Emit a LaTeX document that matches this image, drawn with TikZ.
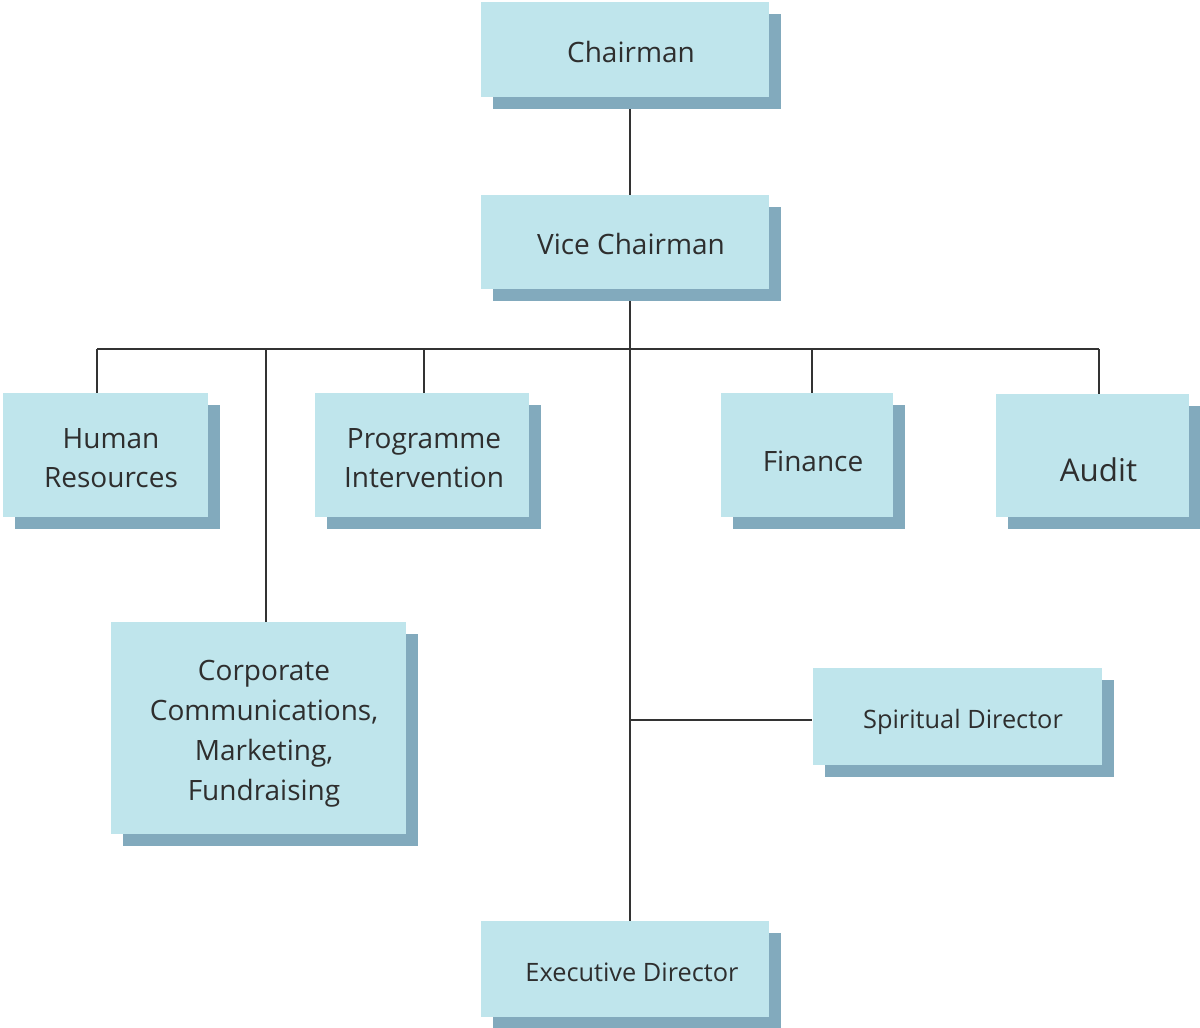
\documentclass[tikz,border=0pt]{standalone}
\usepackage{fontspec}
\setmainfont{Open Sans}
\usetikzlibrary{shadows,backgrounds}
\definecolor{boxfill}{HTML}{BFE5EC}
\definecolor{boxshade}{HTML}{82AABD}
\definecolor{wirec}{HTML}{333333}
\definecolor{ink}{HTML}{2E2E2E}
\tikzset{
  unitbox/.style={fill=boxfill, draw=none, inner sep=0pt,
    general shadow={fill=boxshade, shadow xshift=9pt, shadow yshift=-9pt}},
  caption/.style={inner sep=0pt, text=ink, align=center,
    font=\fontsize{21}{29.25}\selectfont},
  widecap/.style={caption, font=\fontsize{21}{30}\selectfont},
  smallcap/.style={caption, font=\fontsize{19}{26}\selectfont},
  bigcap/.style={caption, font=\fontsize{23.5}{30}\selectfont},
  wire/.style={draw=wirec, line width=1.5pt}
}
\begin{document}
\begin{tikzpicture}[x=0.75pt,y=-0.75pt]
\useasboundingbox (0,0) rectangle (1200,1028);

% boxes
\node[unitbox, minimum width=216pt, minimum height=71.25pt] (chair) at (625,49.5) {};
\node[unitbox, minimum width=216pt, minimum height=70.5pt] (vice) at (625,242) {};
\node[unitbox, minimum width=153.75pt, minimum height=93pt] (hr) at (105.5,455) {};
\node[unitbox, minimum width=160.5pt, minimum height=93pt] (prog) at (422,455) {};
\node[unitbox, minimum width=129pt, minimum height=93pt] (fin) at (807,455) {};
\node[unitbox, minimum width=144.75pt, minimum height=92.25pt] (audit) at (1092.5,455.5) {};
\node[unitbox, minimum width=221.25pt, minimum height=159pt] (corp) at (258.5,728) {};
\node[unitbox, minimum width=216.75pt, minimum height=72.75pt] (spir) at (957,716.5) {};
\node[unitbox, minimum width=216pt, minimum height=72pt] (exec) at (625,969) {};

% captions
\node[caption, anchor=base] (chairT) at (631,62) {Chairman};
\node[caption, anchor=base] (viceT) at (631,254) {Vice Chairman};
\node[caption, anchor=north] (hrT) at (111,428) {Human\\Resources};
\node[caption, anchor=north] (progT) at (424,428) {Programme\\Intervention};
\node[caption, anchor=base] (finT) at (813,471) {Finance};
\node[bigcap, anchor=base] (auditT) at (1098.5,481) {Audit};
\node[widecap, anchor=north] (corpT) at (264,660) {Corporate\\Communications,\\Marketing,\\Fundraising};
\node[smallcap, anchor=base] (spirT) at (963,728) {Spiritual Director};
\node[smallcap, anchor=base] (execT) at (632,981) {Executive Director};

% connectors
\begin{scope}[on background layer]
  \coordinate (trunk) at (630,349);
  \coordinate (bhr) at (97,349);
  \coordinate (bcorp) at (266,349);
  \coordinate (bprog) at (424,349);
  \coordinate (bfin) at (812,349);
  \coordinate (baud) at (1099,349);
  \coordinate (sj) at (630,720);
  \draw[wire] (chair.south -| trunk) -- (vice.north -| trunk);
  \draw[wire] (vice.south -| trunk) -- (exec.north -| trunk);
  \draw[wire] (bhr) -- (baud);
  \draw[wire] (bhr) -- (bhr |- hr.north);
  \draw[wire] (bcorp) -- (bcorp |- corp.north);
  \draw[wire] (bprog) -- (bprog |- prog.north);
  \draw[wire] (bfin) -- (bfin |- fin.north);
  \draw[wire] (baud) -- (baud |- audit.north);
  \draw[wire] (sj) -- (sj -| spir.west);
\end{scope}
\end{tikzpicture}
\end{document}
